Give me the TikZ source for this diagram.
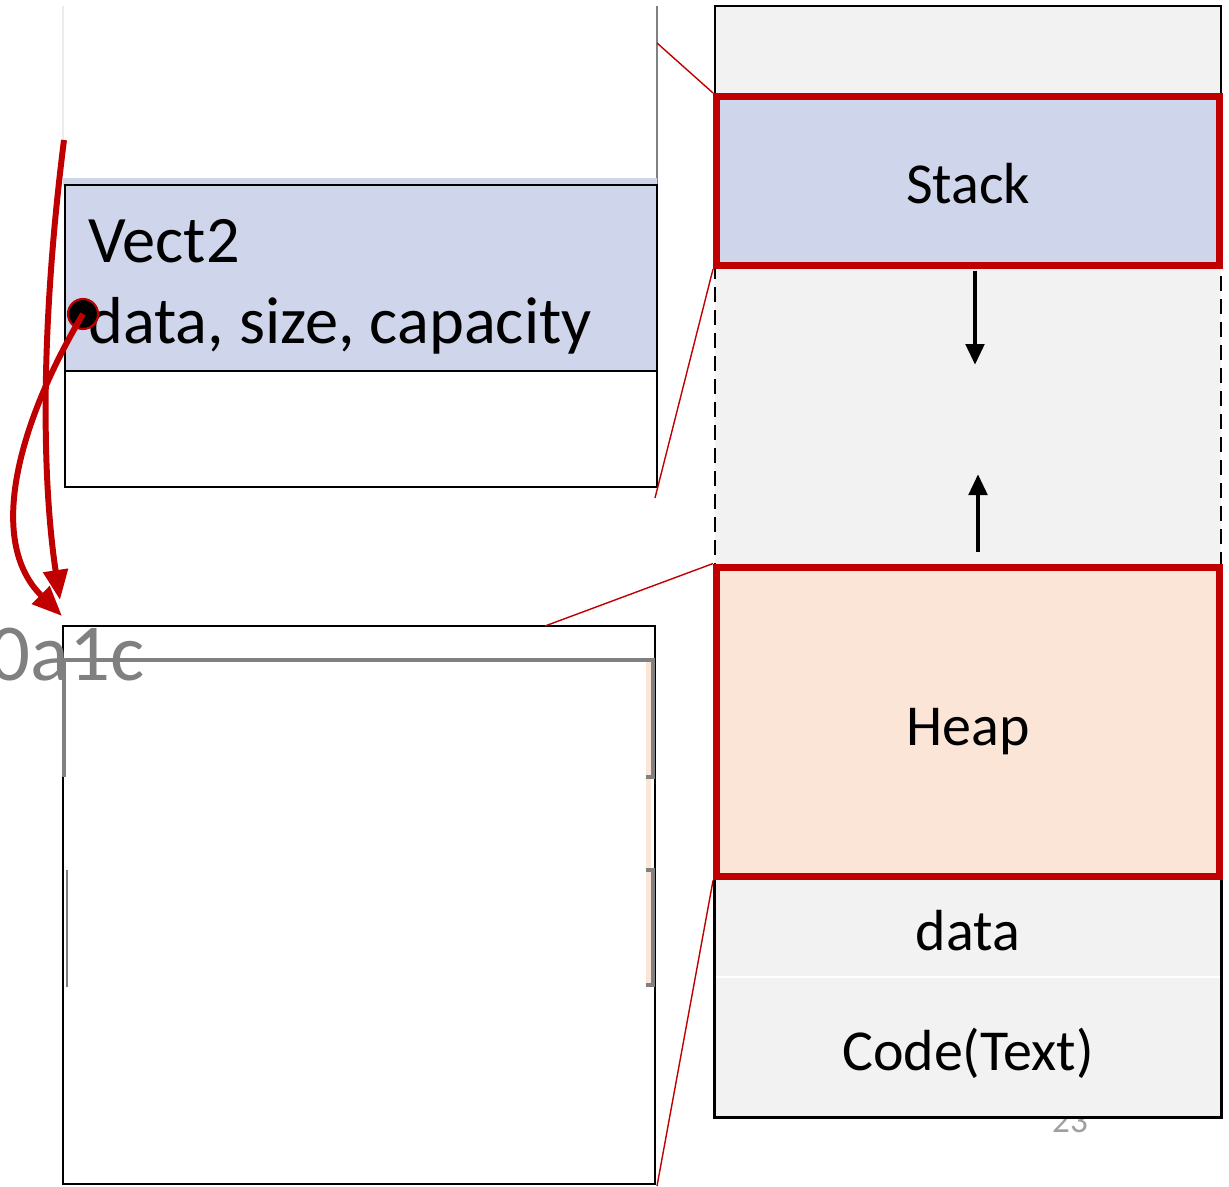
\documentclass[tikz,border=0pt]{standalone}
\usepackage{fontspec}
\setmainfont{Carlito}
\usetikzlibrary{arrows.meta}

\definecolor{memred}{HTML}{C00000}
\definecolor{stackblue}{HTML}{CFD5EA}
\definecolor{heappeach}{HTML}{FBE5D6}
\definecolor{seggray}{HTML}{F2F2F2}

\begin{document}
\begin{tikzpicture}[x=0.02cm, y=-0.02cm,
		seg/.style={minimum width=10.12cm, inner sep=0pt, text height=0.92cm, text depth=0pt, font=\fontsize{33}{36}\selectfont},
		region/.style={seg, minimum width=10.06cm, draw=memred, line width=4pt},
		frame/.style={draw, line width=1.5pt, minimum width=11.84cm, inner sep=0pt},
		big/.style={font=\fontsize{37.8}{42}\selectfont, inner sep=0pt, anchor=base west},
		zoomline/.style={memred, line width=0.8pt},
		ptr/.style={memred, line width=3.4pt, -{Triangle[length=0.6cm, width=0.48cm]}},
		growarrow/.style={line width=2.8pt, -{Triangle[length=0.42cm, width=0.36cm]}}]
		\useasboundingbox (0,0) rectangle (1229,1186);
		% page number, partly hidden under the memory map
		\node[text=gray!75, font=\fontsize{20}{22}\selectfont] (pageno) at (1070,1121) {23};

		% memory map on the right
		\node[seg, draw, line width=1.5pt, fill=seggray, minimum height=1.8cm] (top) at (968,51) {};
		\node[seg, draw, dashed, dash pattern=on 0.3cm off 0.16cm, line width=1.5pt, fill=seggray, minimum height=6.02cm] (gap) at (968,416.5) {};
		\node[seg, fill=seggray, minimum height=2cm] (data) at (968,927) {data};
		\node[seg, fill=seggray, minimum height=2.8cm] (code) at (968,1047) {Code(Text)};
		\draw[line width=1.5pt] (data.north west) rectangle (code.south east);
		\draw[white, line width=1pt, shorten <=1pt, shorten >=1pt] (data.south west) -- (data.south east);
		\node[region, fill=stackblue, minimum height=3.38cm] (stack) at (968,181) {Stack};
		\node[region, fill=heappeach, minimum height=6.2cm] (heap) at (968,722) {Heap};
		\coordinate (gapdown) at (975,365);
		\coordinate (gapup) at (978,474);
		\draw[growarrow] ([yshift=-0.04cm]stack.south -| gapdown) -- (gapdown);
		\draw[growarrow] ([yshift=0.24cm]heap.north -| gapup) -- (gapup);

		% stack frame holding Vect2
		\draw[gray!15, line width=0.8pt] (63,6) -- (63,140);
		\draw[gray, line width=0.8pt] (657,6) -- (657,185);
		\fill[stackblue] (63,178) rectangle (657,186);
		\node[frame, fill=stackblue, minimum height=3.72cm] (vect) at (361,278) {};
		\node[frame, minimum height=2.32cm] (below) at (361,429) {};
		\node[big] (vname) at (88,262) {Vect2};
		\node[big] (vfields) at (88,343) {data, size, capacity};

		% heap block the data pointer refers to
		\node[frame, minimum height=11.16cm] (heapview) at (359,905) {};
		\fill[heappeach] (646,662) rectangle (651,985);
		\draw[gray, line width=2pt] (63,660) -- (655,660);
		\draw[gray, line width=2pt] (64,660) -- (64,777);
		\draw[gray, line width=2pt] (646,777) -- (653,777) -- (653,660);
		\draw[gray, line width=2pt] (646,870) -- (653,870) -- (653,985) -- (646,985);
		\draw[gray, line width=0.8pt] (67,870) -- (67,987);
		\node[text=gray, font=\fontsize{46}{50}\selectfont, inner sep=0pt, anchor=base west] (addr) at (-11,680) {0a1c};

		% zoom lines to the map
		\coordinate (frametop) at (657,43);
		\coordinate (framebot) at (655,498);
		\coordinate (viewtop) at (545,626);
		\coordinate (viewbot) at (657,1186);
		\draw[zoomline] (frametop) -- (stack.north west);
		\draw[zoomline] (framebot) -- (stack.south west);
		\draw[zoomline] (viewtop) -- (heap.north west);
		\draw[zoomline] (viewbot) -- (heap.south west);

		% pointers into the heap block
		\node[circle, fill=black, draw=memred, line width=1.2pt, minimum size=0.6cm, inner sep=0pt] (dataptr) at (83,314) {};
		\coordinate (ptrfrom) at (64,140);
		\coordinate (ptrtip) at (60,600);
		\coordinate (datatip) at (62,616);
		\draw[ptr] (ptrfrom) .. controls (40,330) and (42,480) .. (ptrtip);
		\draw[ptr] (dataptr.center) .. controls (20,420) and (-15,540) .. (datatip);
	\end{tikzpicture}
\end{document}
